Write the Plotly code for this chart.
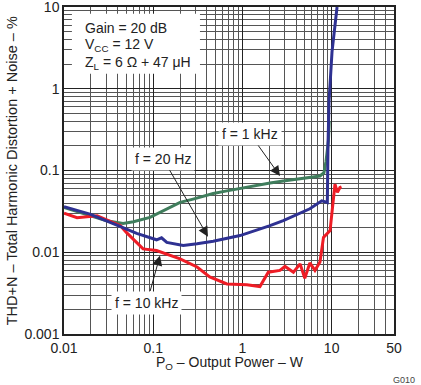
import plotly.graph_objects as go

# f = 1 kHz (green)
p_1k = [0.01, 0.0195, 0.030, 0.046, 0.06, 0.092, 0.142, 0.2, 0.28, 0.47, 0.67, 1.12, 2.04, 2.87, 5.7, 7.4, 8.2, 8.65, 9.2, 9.4]
thd_1k = [0.0353, 0.028, 0.0243, 0.0225, 0.0236, 0.0267, 0.0337, 0.0407, 0.0447, 0.0523, 0.0563, 0.063, 0.0705, 0.0745, 0.0818, 0.0857, 0.094, 0.13, 0.23, 0.4]

# f = 20 Hz (blue)
p_20 = [0.01, 0.0195, 0.043, 0.0653, 0.109, 0.124, 0.142, 0.217, 0.31, 0.47, 0.94, 1.22, 2.0, 2.87, 5.7, 7.75, 8.95, 9.1, 9.35, 10.1, 11.5]
thd_20 = [0.036, 0.0293, 0.0206, 0.017, 0.0142, 0.015, 0.0132, 0.0121, 0.0127, 0.0136, 0.016, 0.0175, 0.021, 0.0243, 0.034, 0.0426, 0.0407, 0.2, 0.7, 2.84, 10.0]

# f = 10 kHz (red)
p_10k = [0.01, 0.014, 0.0235, 0.043, 0.050, 0.077, 0.109, 0.20, 0.31, 0.43, 0.67, 1.12, 1.57, 1.95, 2.63, 3.0, 3.73, 4.43, 5.0, 5.7, 6.5, 7.4, 8.1, 9.6, 10.9, 11.6, 12.4, 12.9]
thd_10k = [0.030, 0.0264, 0.028, 0.0211, 0.0175, 0.011, 0.0105, 0.0083, 0.0066, 0.005, 0.0041, 0.0040, 0.0038, 0.0057, 0.006, 0.0067, 0.0057, 0.0072, 0.0048, 0.0074, 0.006, 0.0076, 0.0152, 0.0184, 0.068, 0.054, 0.062, 0.063]

x_ticks = [0.01, 0.1, 1, 10, 50]
x_tick_text = ["0.01", "0.1", "1", "10", "50"]
y_ticks = [0.001, 0.01, 0.1, 1, 10]
y_tick_text = ["0.001", "0.01", "0.1", "1", "10"]

conditions = ["Gain = 20 dB", "V<sub>CC</sub> = 12 V", "Z<sub>L</sub> = 6 Ω + 47 μH"]

FONT = "Liberation Sans, Arial, sans-serif"
INK = "#222"

fig = go.Figure()
fig.add_trace(go.Scatter(x=p_1k, y=thd_1k, mode="lines", line=dict(color="#3f7d5c", width=3), showlegend=False))
fig.add_trace(go.Scatter(x=p_10k, y=thd_10k, mode="lines", line=dict(color="#ee1c25", width=3), showlegend=False))
fig.add_trace(go.Scatter(x=p_20, y=thd_20, mode="lines", line=dict(color="#2e3192", width=3), showlegend=False))

axis_common = dict(
    type="log", showline=True, linecolor=INK, linewidth=1.5, mirror=True,
    showgrid=True, gridcolor=INK, gridwidth=1,
    ticks="", tickfont=dict(family=FONT, size=14, color=INK),
    zeroline=False, automargin=False, ticklabeloverflow="allow",
    minor=dict(dtick="D1", showgrid=True, gridcolor="#555", gridwidth=1, ticks=""),
)

fig.update_xaxes(**axis_common, range=[-2, 1.69897], tickvals=x_ticks, ticktext=x_tick_text)
fig.update_yaxes(**axis_common, range=[-3, 1], tickvals=y_ticks, ticktext=y_tick_text)

ann_font = dict(family=FONT, size=14, color=INK)
arrow_style = dict(showarrow=True, arrowhead=2, arrowsize=2, arrowwidth=1, arrowcolor=INK)
annotations = []
for text, yy in zip(conditions, [0.935, 0.883, 0.83]):
    annotations.append(dict(xref="paper", yref="paper", x=0.0576, y=yy, xanchor="left", yanchor="middle",
                            text=text, showarrow=False, font=ann_font))
annotations += [
    # curve labels with arrows pointing to the curves
    dict(x=0.4215, y=-1.067, ax=-30, ay=-42, text="f = 1 kHz", bgcolor="white", font=ann_font, borderpad=3, **arrow_style),
    dict(x=-0.386, y=-1.809, ax=-45, ay=-78, text="f = 20 Hz", bgcolor="white", font=ann_font, borderpad=3, **arrow_style),
    dict(x=-0.924, y=-2.040, ax=-13, ay=47, text="f = 10 kHz", bgcolor="white", font=ann_font, borderpad=3, **arrow_style),
    # axis titles
    dict(xref="paper", yref="paper", x=-0.158, y=0.5, xanchor="center", yanchor="middle", textangle=-90,
         text="THD+N – Total Harmonic Distortion + Noise – %", showarrow=False,
         font=dict(family=FONT, size=14.5, color=INK)),
    dict(xref="paper", yref="paper", x=0.503, y=-0.088, xanchor="center", yanchor="middle",
         text="P<sub>O</sub> – Output Power – W", showarrow=False, font=dict(family=FONT, size=14, color=INK)),
    dict(xref="paper", yref="paper", x=1.07, y=-0.14, xanchor="right", yanchor="middle",
         text="G010", showarrow=False, font=dict(family=FONT, size=9, color="#444")),
]
fig.update_layout(
    width=421, height=385,
    margin=dict(l=64, r=27, t=7, b=51),
    paper_bgcolor="white", plot_bgcolor="white",
    annotations=annotations,
    shapes=[dict(type="rect", xref="paper", yref="paper", x0=0.024, x1=0.412, y0=0.796, y1=0.979,
                 fillcolor="white", line=dict(width=0), layer="above")],
)
fig.write_html("out.html", config={"displayModeBar": False},
               post_script="document.body.style.margin='0';")
